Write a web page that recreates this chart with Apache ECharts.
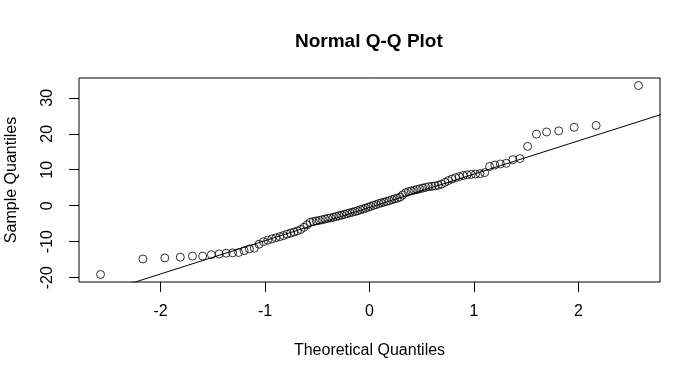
<!DOCTYPE html>
<html>
<head>
<meta charset="utf-8">
<script src="https://cdn.jsdelivr.net/npm/echarts@6/dist/echarts.min.js"></script>
<style>html,body{margin:0;padding:0;background:#fff}#c{width:700px;height:380px}</style>
</head>
<body>
<div id="c"></div>
<script>
// Theoretical normal quantiles for n = 100 (qnorm(ppoints(100))), lower half; upper half is symmetric
var theoreticalLower = [-2.5758,-2.1701,-1.9600,-1.8119,-1.6954,-1.5982,-1.5141,-1.4395,-1.3722,-1.3106,
  -1.2536,-1.2004,-1.1503,-1.1031,-1.0581,-1.0152,-0.9741,-0.9346,-0.8965,-0.8596,
  -0.8239,-0.7892,-0.7554,-0.7225,-0.6903,-0.6588,-0.6280,-0.5978,-0.5681,-0.5388,
  -0.5101,-0.4817,-0.4538,-0.4261,-0.3989,-0.3719,-0.3451,-0.3186,-0.2924,-0.2663,
  -0.2404,-0.2147,-0.1891,-0.1637,-0.1383,-0.1130,-0.0878,-0.0627,-0.0376,-0.0125];
// Sorted sample values
var sampleQuantiles = [-19.1,-14.8,-14.5,-14.3,-14.0,-14.0,-13.6,-13.4,-13.2,-13.1,
  -13.0,-12.5,-12.0,-11.8,-10.7,-10.0,-9.6,-9.2,-8.9,-8.6,
  -8.3,-7.9,-7.6,-7.3,-7.0,-6.6,-6.0,-5.3,-4.6,-4.4,
  -4.2,-4.1,-3.9,-3.7,-3.5,-3.4,-3.2,-3.0,-2.8,-2.6,
  -2.4,-2.2,-2.0,-1.8,-1.6,-1.4,-1.1,-0.9,-0.7,-0.4,
  -0.2,0.1,0.3,0.6,0.8,1.0,1.2,1.4,1.7,1.9,
  2.1,2.4,3.0,3.6,3.9,4.1,4.3,4.5,4.7,4.9,
  5.1,5.3,5.4,5.5,5.7,6.0,6.5,7.0,7.4,7.8,
  8.1,8.4,8.6,8.7,8.8,8.9,9.2,10.9,11.3,11.6,
  11.8,12.8,13.1,16.5,19.9,20.5,20.8,21.8,22.3,33.4];
var xTicks = [-2,-1,0,1,2];
var yTicks = [-20,-10,0,10,20,30];
var titleText = 'Normal Q-Q Plot';
var xLabel = 'Theoretical Quantiles';
var yLabel = 'Sample Quantiles';

var theoretical = theoreticalLower.concat(theoreticalLower.slice().reverse().map(function(v){return -v;}));
var points = theoretical.map(function(x,i){return [x, sampleQuantiles[i]];});

function q7(arr,p){var s=arr.slice().sort(function(a,b){return a-b;});var h=(s.length-1)*p;var lo=Math.floor(h);return s[lo]+(h-lo)*(s[Math.min(lo+1,s.length-1)]-s[lo]);}
var y1=q7(sampleQuantiles,0.25), y3=q7(sampleQuantiles,0.75);
var z=0.6744898;
var slope=(y3-y1)/(2*z), intercept=y1+slope*z;

function ext(arr){var mn=Math.min.apply(null,arr),mx=Math.max.apply(null,arr),d=(mx-mn)*0.04;return [mn-d,mx+d];}
var xr=ext(theoretical), yr=ext(sampleQuantiles);
var lineData=[[xr[0]-1, intercept+slope*(xr[0]-1)],[xr[1]+1, intercept+slope*(xr[1]+1)]];

var font='"Liberation Sans", Arial, Helvetica, sans-serif';
var chart=echarts.init(document.getElementById('c'),null,{renderer:'canvas'});
chart.setOption({
  animation:false,
  backgroundColor:'#fff',
  title:{text:titleText,left:295,top:32,padding:0,textStyle:{fontFamily:font,fontSize:19,fontWeight:'bold',color:'#000'}},
  grid:{left:79,right:40,top:78,bottom:98,show:true,borderColor:'#000',borderWidth:1,backgroundColor:'transparent',
    containLabel:false,outerBoundsMode:'none'},
  xAxis:{type:'value',min:xr[0],max:xr[1],
    name:xLabel,nameLocation:'middle',nameGap:61,nameTextStyle:{fontFamily:font,fontSize:16,color:'#000'},
    axisLine:{show:false,onZero:false},splitLine:{show:false},
    axisTick:{show:true,inside:false,length:10,customValues:xTicks,lineStyle:{color:'#000',width:1}},
    axisLabel:{customValues:xTicks,margin:22,fontFamily:font,fontSize:16,color:'#000'}},
  yAxis:{type:'value',min:yr[0],max:yr[1],
    name:yLabel,nameLocation:'middle',nameGap:59,nameTextStyle:{fontFamily:font,fontSize:16,color:'#000'},
    axisLine:{show:false,onZero:false},splitLine:{show:false},
    axisTick:{show:true,inside:false,length:10,customValues:yTicks,lineStyle:{color:'#000',width:1}},
    axisLabel:{customValues:yTicks,rotate:90,margin:23,fontFamily:font,fontSize:16,color:'#000'}},
  series:[
    {type:'line',data:lineData,clip:true,symbol:'none',lineStyle:{color:'#000',width:1},silent:true,z:1},
    {type:'scatter',data:points,symbol:'circle',symbolSize:8,clip:false,
     itemStyle:{color:'rgba(0,0,0,0)',borderColor:'#000',borderWidth:1},z:2}
  ]
});
</script>
</body>
</html>
